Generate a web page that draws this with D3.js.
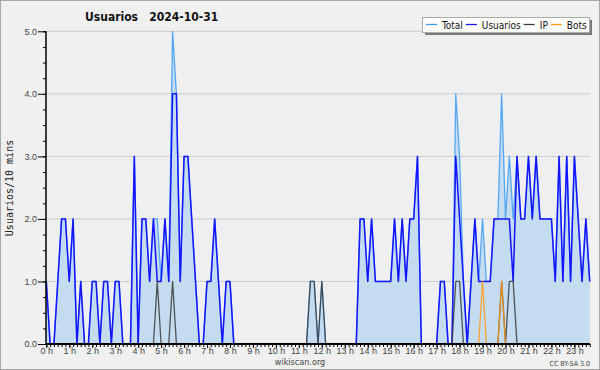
<!DOCTYPE html>
<html lang="es">
<head>
<meta charset="UTF-8">
<title>Usuarios 2024-10-31</title>
<script src="https://d3js.org/d3.v7.min.js"></script>
<style>
    body { margin: 0; background: #f0f0f0; }
    svg { display: block; font-family: "DejaVu Sans Condensed", "DejaVu Sans", sans-serif; font-stretch: condensed; }
    .axis text { fill: #444; font-size: 9px; }
    .axis path, .axis line { stroke: #000; }
</style>
</head>
<body>
<div id="chart"></div>
<script>
    // one value per 10 minutes, 00:00 .. 23:40
    const usuarios = [
        1,0,0,1,2,2, 1,2,0,1,0,0, 1,1,0,1,1,0, 1,1,0,0,0,3,
        0,2,2,1,2,1, 1,2,1,4,4,1, 3,3,2,1,0,0, 1,1,2,1,0,1,
        1,0,0,0,0,0, 0,0,0,0,0,0, 0,0,0,0,0,0, 0,0,0,0,0,0,
        0,0,0,0,0,0, 0,0,0,0,2,2, 1,2,1,1,1,1, 1,2,1,2,1,2,
        2,3,0,0,0,0, 0,1,1,0,0,3, 2,1,0,1,2,1, 1,1,1,2,2,2,
        2,2,1,3,2,2, 3,2,3,2,2,2, 2,1,3,1,3,1, 3,2,1,2,1
    ];
    const ip = [
        0,0,0,0,0,0, 0,0,0,0,0,0, 0,0,0,0,0,0, 0,0,0,0,0,0,
        0,0,0,0,0,1, 0,0,0,1,0,0, 0,0,0,0,0,0, 0,0,0,0,0,0,
        0,0,0,0,0,0, 0,0,0,0,0,0, 0,0,0,0,0,0, 0,0,0,1,1,0,
        1,0,0,0,0,0, 0,0,0,0,0,0, 0,0,0,0,0,0, 0,0,0,0,0,0,
        0,0,0,0,0,0, 0,0,0,0,0,1, 1,0,0,0,0,0, 0,0,0,0,0,1,
        0,1,1,0,0,0, 0,0,0,0,0,0, 0,0,0,0,0,0, 0,0,0,0,0
    ];
    const bots = [
        0,0,0,0,0,0, 0,0,0,0,0,0, 0,0,0,0,0,0, 0,0,0,0,0,0,
        0,0,0,0,0,0, 0,0,0,0,0,0, 0,0,0,0,0,0, 0,0,0,0,0,0,
        0,0,0,0,0,0, 0,0,0,0,0,0, 0,0,0,0,0,0, 0,0,0,0,0,0,
        0,0,0,0,0,0, 0,0,0,0,0,0, 0,0,0,0,0,0, 0,0,0,0,0,0,
        0,0,0,0,0,0, 0,0,0,0,0,0, 0,0,0,0,0,0, 1,0,0,0,0,1,
        0,0,0,0,0,0, 0,0,0,0,0,0, 0,0,0,0,0,0, 0,0,0,0,0
    ];
    const total = [
        1,0,0,1,2,2, 1,2,0,1,0,0, 1,1,0,1,1,0, 1,1,0,0,0,3,
        0,2,2,1,2,2, 1,2,1,5,4,1, 3,3,2,1,0,0, 1,1,2,1,0,1,
        1,0,0,0,0,0, 0,0,0,0,0,0, 0,0,0,0,0,0, 0,0,0,1,1,0,
        1,0,0,0,0,0, 0,0,0,0,2,2, 1,2,1,1,1,1, 1,2,1,2,1,2,
        2,3,0,0,0,0, 0,1,1,0,0,4, 3,1,0,1,2,1, 2,1,1,2,2,4,
        2,3,2,3,2,2, 3,2,3,2,2,2, 2,1,3,1,3,1, 3,2,1,2,1
    ];
    const hours = d3.range(0, 24);          // hour tick labels
    const yTicks = [0, 1, 2, 3, 4, 5];
    const legendNames = ["Total", "Usuarios", "IP", "Bots"];
    const legendColors = ["#3d9cf2", "#1414ff", "#3a3a3a", "#ff9a10"];

    const width = 600, height = 370;
    const svg = d3.select("#chart").append("svg")
        .attr("width", width)
        .attr("height", height);

    // frame
    svg.append("rect")
        .attr("x", 0.5).attr("y", 0.5)
        .attr("width", width - 1).attr("height", height - 1)
        .attr("fill", "#f0f0f0").attr("stroke", "#a8a8a8");

    const x = d3.scaleLinear().domain([0, 142]).range([46.3, 589.7]);
    const y = d3.scaleLinear().domain([0, 5]).range([344, 31.3]);

    // plot background
    svg.append("rect")
        .attr("x", 46).attr("y", y(5))
        .attr("width", 590 - 46).attr("height", y(0) - y(5))
        .attr("fill", "#eeeff1");

    // grid
    svg.append("g").selectAll("line")
        .data(yTicks.slice(1))
        .join("line")
        .attr("x1", 46).attr("x2", 590)
        .attr("y1", d => y(d)).attr("y2", d => y(d))
        .attr("stroke", "#cccccc");

    const idx = d3.range(usuarios.length);

    // filled total
    svg.append("path")
        .datum(idx)
        .attr("fill", "#c5dcf0")
        .attr("d", d3.area().x(i => x(i)).y0(y(0)).y1(i => y(total[i])));

    const line = series => d3.line().x(i => x(i)).y(i => y(series[i]));
    [total, usuarios, ip, bots].forEach((s, k) => {
        svg.append("path")
            .datum(idx)
            .attr("fill", "none")
            .attr("stroke", legendColors[k])
            .attr("stroke-width", k === 1 ? 1.5 : 1.3)
            .attr("stroke-opacity", k === 1 ? 1 : 0.85)
            .attr("stroke-linejoin", "round")
            .attr("d", line(s));
    });

    // y axis: labels + minor ticks (drawn after the lines so they sit on top)
    svg.append("g")
        .attr("class", "axis")
        .attr("transform", "translate(46,0)")
        .call(d3.axisLeft(y).tickValues(d3.range(0, 5.01, 0.25)).tickSize(3).tickFormat(""))
        .call(g => g.select(".domain").remove());
    svg.append("g")
        .attr("class", "axis")
        .attr("transform", "translate(46,0)")
        .call(d3.axisLeft(y).tickValues(yTicks).tickSize(8).tickPadding(1).tickFormat(d3.format(".1f")))
        .call(g => g.select(".domain").attr("d", `M0,${y(5)}V${y(0)}`).attr("stroke-width", 1.5));

    // x axis: 10-minute ticks + hour labels
    svg.append("g")
        .attr("class", "axis")
        .attr("transform", "translate(0,344)")
        .call(d3.axisBottom(x).tickValues(idx).tickSize(3).tickFormat(""))
        .call(g => g.select(".domain").attr("d", "M46,0H590").attr("stroke-width", 1.8));
    svg.append("g")
        .attr("class", "axis")
        .attr("transform", "translate(0,344)")
        .call(d3.axisBottom(x).tickValues(hours.map(h => h * 6)).tickSize(4).tickPadding(0)
            .tickFormat(i => (i / 6) + " h"))
        .call(g => g.select(".domain").remove());

    // y label
    svg.append("text")
        .attr("transform", "translate(13,188) rotate(-90)")
        .attr("text-anchor", "middle")
        .attr("font-family", "DejaVu Sans Mono")
        .attr("font-size", 10)
        .attr("fill", "#222")
        .text("Usuarios/10 mins");

    // title
    svg.append("text")
        .attr("x", 85).attr("y", 21)
        .attr("font-size", 12)
        .attr("font-weight", "bold")
        .attr("fill", "#111")
        .style("white-space", "pre")
        .text("Usuarios   2024-10-31");

    // footer
    svg.append("text")
        .attr("x", 300).attr("y", 365)
        .attr("text-anchor", "middle")
        .attr("font-size", 9).attr("fill", "#444")
        .text("wikiscan.org");
    svg.append("text")
        .attr("x", 590).attr("y", 366)
        .attr("text-anchor", "end")
        .attr("font-size", 7).attr("fill", "#444")
        .text("CC BY-SA 3.0");

    // legend
    const lg = svg.append("g");
    lg.append("rect").attr("x", 425).attr("y", 20).attr("width", 167).attr("height", 15).attr("fill", "#7a7a7a");
    lg.append("rect").attr("x", 422.5).attr("y", 17.5).attr("width", 167).attr("height", 15)
        .attr("fill", "#fff").attr("stroke", "#aaa");
    let lx = 426;
    legendNames.forEach((name, k) => {
        lg.append("line")
            .attr("x1", lx).attr("x2", lx + 11)
            .attr("y1", 24.5).attr("y2", 24.5)
            .attr("stroke", legendColors[k]).attr("stroke-width", 1.3);
        const t = lg.append("text")
            .attr("x", lx + 16).attr("y", 28.5)
            .attr("font-size", 10).attr("fill", "#111")
            .text(name);
        lx += 16 + t.node().getComputedTextLength() + 3;
    });
</script>
</body>
</html>
